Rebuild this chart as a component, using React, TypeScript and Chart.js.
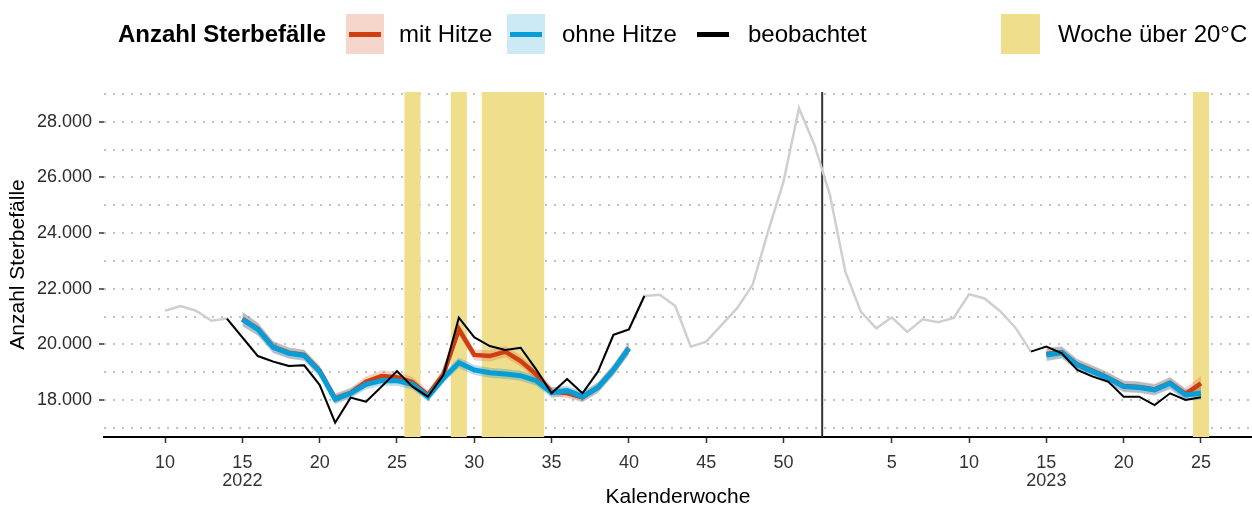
import React, { useEffect, useRef } from 'react';
import { Chart, registerables } from 'chart.js';

Chart.register(...registerables);

const FONT = "'Liberation Sans', Arial, Helvetica, sans-serif";

// ---- data ----
// observed weekly deaths, 2022 from week 10 to week 52
const observedStart2022 = 10;
const observed2022 = [
  21210, 21380, 21210, 20850, 20925, 20250, 19580, 19380, 19220, 19245,
  18540, 17185, 18085, 17940, 18480, 19040, 18480, 18120, 18900, 20960,
  20255, 19940, 19800, 19880, 19100, 18240, 18755, 18240, 19020, 20340,
  20540, 21740, 21780, 21380, 19920, 20100, 20700, 21300, 22140, 24055,
  25850, 28490, 27170,
];
// observed weekly deaths, 2023 from week 1 to week 25
const observedStart2023 = 1;
const observed2023 = [
  25375, 22615, 21175, 20580, 20975, 20450, 20900, 20800, 20950, 21800,
  21650, 21200, 20600, 19740, 19920, 19680, 19080, 18840, 18660, 18120,
  18120, 17820, 18240, 18000, 18095,
];
// weeks highlighted black ("beobachtet")
const observedShown2022 = [14, 41];
const observedShown2023 = [14, 25];
// grey context line: 2022 week 10 .. 2023 week 14
const greyEnd2023 = 14;

// model weeks
const modelStart2022 = 15; // to 40
const modelStart2023 = 15; // to 25
const mitHitze2022 = [
  20920, 20560, 19910, 19700, 19620, 19050, 18060, 18260, 18660, 18865,
  18815, 18640, 18180, 18920, 20540, 19620, 19580, 19740, 19400, 18920,
  18300, 18250, 18100, 18450, 19080, 19860,
];
const ohneHitze2022 = [
  20900, 20540, 19895, 19680, 19600, 19020, 18025, 18240, 18565, 18695,
  18695, 18560, 18120, 18780, 19340, 19080, 18980, 18935, 18875, 18695,
  18265, 18335, 18120, 18450, 19080, 19860,
];
const mitHitze2023 = [19650, 19720, 19280, 19050, 18800, 18500, 18470, 18380, 18620, 18220, 18600];
const ohneHitze2023 = [19620, 19700, 19260, 19020, 18780, 18480, 18450, 18360, 18600, 18180, 18240];
// half-width of uncertainty ribbons
const mitBand2022 = [
  250, 230, 210, 200, 190, 190, 180, 180, 190, 200, 200, 190, 180, 190, 210, 200,
  200, 200, 200, 190, 180, 180, 180, 190, 200, 220,
];
const ohneBand2022 = [
  260, 230, 210, 200, 200, 190, 180, 180, 180, 180, 180, 180, 180, 180, 190, 180,
  180, 180, 180, 180, 180, 180, 180, 190, 200, 220,
];
const mitBand2023 = [230, 210, 200, 200, 200, 200, 200, 200, 210, 210, 260];
const ohneBand2023 = [230, 210, 200, 200, 200, 200, 200, 200, 210, 210, 230];

// weeks with mean temperature above 20°C
const hotWeeks2022 = [26, 29, 31, 32, 33, 34];
const hotWeeks2023 = [25];

// axis ticks
const xTicks2022 = [10, 15, 20, 25, 30, 35, 40, 45, 50];
const xTicks2023 = [5, 10, 15, 20, 25];
const yearLabelWeek = 15;
const weeksIn2022 = 52;
const yTickValues = [17000, 18000, 19000, 20000, 21000, 22000, 23000, 24000, 25000, 26000, 27000, 28000, 29000];

// ---- colours ----
const RED = '#CF3E10';
const BLUE = '#079DD6';
const RED_BAND = 'rgba(215,105,75,0.3)';
const BLUE_BAND = 'rgba(30,140,190,0.3)';
const YELLOW = '#EFDE8C';

const idx2023 = (w: number) => weeksIn2022 + w;

function fmt(v: number) {
  return String(v).replace(/\B(?=(\d{3})+(?!\d))/g, '.');
}

type Pt = { x: number; y: number | null };

function seriesPts(start: number, vals: number[], offset: number, from?: number, to?: number): Pt[] {
  const pts: Pt[] = [];
  vals.forEach((v, i) => {
    const w = start + i;
    if (from !== undefined && w < from) return;
    if (to !== undefined && w > to) return;
    pts.push({ x: w + offset, y: v });
  });
  return pts;
}

function bandPts(start: number, vals: number[], half: number[], offset: number, sign: number): Pt[] {
  return vals.map((v, i) => ({ x: start + i + offset, y: v + sign * half[i] }));
}

export default function App() {
  const ref = useRef<HTMLCanvasElement | null>(null);

  useEffect(() => {
    if (!ref.current) return;
    const gap: Pt = { x: 46, y: null };

    const grey = [
      ...seriesPts(observedStart2022, observed2022, 0),
      ...seriesPts(observedStart2023, observed2023, weeksIn2022, undefined, greyEnd2023),
    ];
    const black = [
      ...seriesPts(observedStart2022, observed2022, 0, observedShown2022[0], observedShown2022[1]),
      gap,
      ...seriesPts(observedStart2023, observed2023, weeksIn2022, observedShown2023[0], observedShown2023[1]),
    ];
    const redLine = [
      ...seriesPts(modelStart2022, mitHitze2022, 0),
      gap,
      ...seriesPts(modelStart2023, mitHitze2023, weeksIn2022),
    ];
    const blueLine = [
      ...seriesPts(modelStart2022, ohneHitze2022, 0),
      gap,
      ...seriesPts(modelStart2023, ohneHitze2023, weeksIn2022),
    ];

    const bandSet = (vals: number[], half: number[], start: number, offset: number, color: string, order: number) => [
      {
        type: 'line' as const,
        data: bandPts(start, vals, half, offset, 1),
        borderWidth: 0,
        borderColor: 'rgba(0,0,0,0)',
        backgroundColor: color,
        fill: '+1',
        pointRadius: 0,
        order,
      },
      {
        type: 'line' as const,
        data: bandPts(start, vals, half, offset, -1),
        borderWidth: 0,
        borderColor: 'rgba(0,0,0,0)',
        fill: false,
        pointRadius: 0,
        order,
      },
    ];

    const datasets: any[] = [
      {
        type: 'bar',
        data: [...hotWeeks2022.map((w) => ({ x: w, y: 1 })), ...hotWeeks2023.map((w) => ({ x: idx2023(w), y: 1 }))],
        yAxisID: 'yBar',
        backgroundColor: YELLOW,
        borderWidth: 0,
        barPercentage: 1,
        categoryPercentage: 1,
        order: 10,
      },
      {
        type: 'line',
        data: [
          { x: weeksIn2022 + 0.5, y: 0 },
          { x: weeksIn2022 + 0.5, y: 1 },
        ],
        yAxisID: 'yBar',
        borderColor: '#333333',
        borderWidth: 2,
        pointRadius: 0,
        order: 8,
      },
      {
        type: 'line',
        data: grey,
        borderColor: '#cfcfcf',
        borderWidth: 2.5,
        pointRadius: 0,
        order: 7,
      },
      ...bandSet(mitHitze2022, mitBand2022, modelStart2022, 0, RED_BAND, 6),
      ...bandSet(mitHitze2023, mitBand2023, modelStart2023, weeksIn2022, RED_BAND, 6),
      ...bandSet(ohneHitze2022, ohneBand2022, modelStart2022, 0, BLUE_BAND, 5),
      ...bandSet(ohneHitze2023, ohneBand2023, modelStart2023, weeksIn2022, BLUE_BAND, 5),
      {
        type: 'line',
        data: redLine,
        borderColor: RED,
        borderWidth: 4.5,
        pointRadius: 0,
        order: 4,
      },
      {
        type: 'line',
        data: blueLine,
        borderColor: BLUE,
        borderWidth: 5,
        pointRadius: 0,
        order: 3,
      },
      {
        type: 'line',
        data: black,
        borderColor: '#000000',
        borderWidth: 2,
        pointRadius: 0,
        order: 1,
      },
    ];

    const xTickValues = [...xTicks2022, ...xTicks2023.map(idx2023)];

    const chart = new Chart(ref.current, {
      type: 'line',
      data: { datasets },
      options: {
        animation: false,
        responsive: false,
        maintainAspectRatio: false,
        layout: { padding: { top: 92, left: 0, right: 0, bottom: 0 } },
        plugins: { legend: { display: false }, tooltip: { enabled: false } },
        elements: { point: { radius: 0 }, line: { tension: 0 } },
        scales: {
          x: {
            type: 'linear',
            min: 6.05,
            max: 80.3,
            offset: false,
            afterBuildTicks: (s: any) => {
              s.ticks = xTickValues.map((v) => ({ value: v }));
            },
            afterFit: (s: any) => {
              s.height = 73;
            },
            ticks: {
              autoSkip: false,
              maxRotation: 0,
              minRotation: 0,
              padding: 11,
              color: '#333333',
              font: { family: FONT, size: 18, lineHeight: 1 },
              callback: (v: any) => {
                const val = Number(v);
                const w = val > weeksIn2022 ? val - weeksIn2022 : val;
                if (w === yearLabelWeek) return [String(w), val > weeksIn2022 ? '2023' : '2022'];
                return String(w);
              },
            },
            grid: { drawOnChartArea: false, tickLength: 6, tickColor: '#333333', tickWidth: 1.5, offset: false },
            border: { display: true, color: '#000000', width: 2 },
            title: {
              display: true,
              text: 'Kalenderwoche',
              color: '#000000',
              font: { family: FONT, size: 21 },
              padding: 0,
            },
          },
          y: {
            type: 'linear',
            min: 16670,
            max: 29072,
            afterBuildTicks: (s: any) => {
              s.ticks = yTickValues.map((v) => ({ value: v }));
            },
            afterFit: (s: any) => {
              s.width = 104;
            },
            ticks: {
              padding: 7,
              color: '#2b2b2b',
              font: { family: FONT, size: 18 },
              callback: (v: any) => (Number(v) % 2000 === 0 ? fmt(Number(v)) : ''),
            },
            grid: {
              color: '#c2c2c2',
              lineWidth: 2,
              tickLength: 5,
              tickWidth: 1.5,
              tickBorderDash: [],
              tickColor: (ctx: any) => (ctx.tick && ctx.tick.value % 2000 === 0 ? '#333333' : 'rgba(0,0,0,0)'),
            },
            border: { display: false, dash: [2, 7] },
            title: {
              display: true,
              text: 'Anzahl Sterbefälle',
              color: '#000000',
              font: { family: FONT, size: 21 },
              padding: { top: 6, bottom: 0 },
            },
          },
          yBar: { type: 'linear', min: 0, max: 1, display: false },
        },
      } as any,
    });
    return () => chart.destroy();
  }, []);

  const text: React.CSSProperties = {
    position: 'absolute',
    top: 14,
    height: 40,
    lineHeight: '40px',
    fontSize: 24,
    color: '#000',
    whiteSpace: 'nowrap',
  };
  const key = (left: number, bg: string, line: string | null, w = 38): React.ReactNode => (
    <div style={{ position: 'absolute', left, top: 14, width: w, height: 40, background: bg }}>
      {line && <div style={{ position: 'absolute', left: 3, right: 3, top: 18, height: 4.5, background: line }} />}
    </div>
  );

  return (
    <div
      style={{
        position: 'fixed',
        left: 0,
        top: 0,
        width: 1252,
        height: 510,
        background: '#fff',
        fontFamily: FONT,
        overflow: 'hidden',
      }}
    >
      <canvas ref={ref} width={1252} height={510} style={{ position: 'absolute', left: 0, top: 0, width: 1252, height: 510 }} />
      <div style={{ ...text, left: 118, fontWeight: 'bold' }}>Anzahl Sterbefälle</div>
      {key(346, '#F6D5CB', RED)}
      <div style={{ ...text, left: 399 }}>mit Hitze</div>
      {key(507, '#CBEAF6', BLUE)}
      <div style={{ ...text, left: 562 }}>ohne Hitze</div>
      {key(694, 'transparent', '#000')}
      <div style={{ ...text, left: 748 }}>beobachtet</div>
      {key(1001, YELLOW, null, 39)}
      <div style={{ ...text, left: 1058 }}>Woche über 20°C</div>
    </div>
  );
}
